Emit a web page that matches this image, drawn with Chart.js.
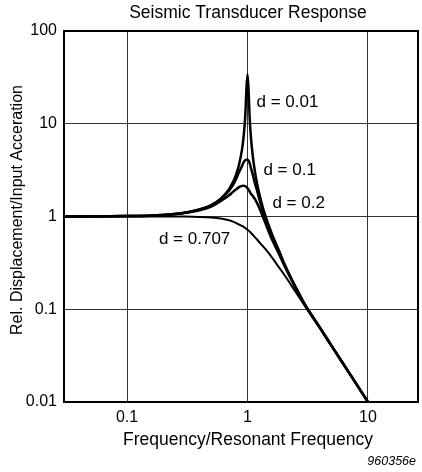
<!DOCTYPE html>
<html>
<head>
<meta charset="UTF-8">
<title>Seismic Transducer Response</title>
<script src="https://cdn.jsdelivr.net/npm/chart.js@4.4.0/dist/chart.umd.min.js"></script>
<style>
  body { margin: 0; background: #fff; }
  canvas { display: block; }
</style>
</head>
<body>
<canvas id="myChart" width="422" height="472"></canvas>
<script>
// frequency ratio samples
const freq = [0.03, 0.1, 0.2, 0.3, 0.4, 0.5, 0.6, 0.7, 0.75, 0.8, 0.85, 0.9, 0.93, 0.96, 0.98, 1.0, 1.02, 1.04, 1.07, 1.1, 1.15, 1.2, 1.3, 1.4, 1.6, 1.8, 2, 2.5, 3, 4, 5, 7, 10];

const d001 = [1.0, 1.01, 1.04, 1.10, 1.19, 1.33, 1.56, 1.96, 2.29, 2.78, 3.6, 5.26, 7.4, 12.7, 24, 34, 23.5, 12.2, 6.9, 4.76, 3.10, 2.27, 1.45, 1.04, 0.64, 0.446, 0.32, 0.175, 0.112, 0.063, 0.04, 0.0205, 0.01];
const d01  = [1.0, 1.01, 1.04, 1.10, 1.19, 1.32, 1.54, 1.89, 2.14, 2.5, 3.0, 3.5, 3.85, 4.05, 4.1, 4.1, 4.0, 3.8, 3.3, 2.9, 2.3, 1.9, 1.3, 0.98, 0.62, 0.44, 0.315, 0.174, 0.112, 0.063, 0.04, 0.0205, 0.01];
const d02  = [1.0, 1.01, 1.04, 1.09, 1.17, 1.28, 1.47, 1.68, 1.82, 1.95, 2.07, 2.14, 2.15, 2.12, 2.08, 2.02, 1.95, 1.87, 1.75, 1.68, 1.55, 1.4, 1.1, 0.86, 0.56, 0.41, 0.305, 0.172, 0.111, 0.063, 0.04, 0.0205, 0.01];
const d0707 = [1.0, 1.0, 1.0, 0.998, 0.99, 0.975, 0.95, 0.91, 0.885, 0.855, 0.82, 0.79, 0.77, 0.75, 0.735, 0.72, 0.705, 0.69, 0.665, 0.64, 0.6, 0.565, 0.5, 0.45, 0.36, 0.29, 0.24, 0.155, 0.108, 0.062, 0.04, 0.0204, 0.01];

const xTicks = [0.1, 1, 10];
const yTicks = [0.01, 0.1, 1, 10, 100];

const labels = ["d = 0.01", "d = 0.1", "d = 0.2", "d = 0.707"];
const labelX = [1.187, 1.356, 1.61, 0.184];
const labelY = [17.1, 3.17, 1.40, 0.572];

function pts(ys) {
  return freq.map((f, i) => ({x: f, y: ys[i]}));
}

const fontFam = '"Liberation Sans", Arial, sans-serif';

const textPlugin = {
  id: 'texts',
  afterDraw(chart) {
    const ctx = chart.ctx;
    const a = chart.chartArea;
    const xs = chart.scales.x, ys = chart.scales.y;
    ctx.save();
    // frame
    ctx.strokeStyle = '#000';
    ctx.lineWidth = 2;
    ctx.strokeRect(a.left, a.top, a.right - a.left, a.bottom - a.top);

    ctx.fillStyle = '#000';
    ctx.textBaseline = 'middle';
    ctx.textAlign = 'center';
    ctx.font = '17.5px ' + fontFam;
    ctx.fillText('Seismic Transducer Response', 248, 13);
    ctx.fillText('Frequency/Resonant Frequency', 248, 440);

    ctx.save();
    ctx.translate(18, 210);
    ctx.rotate(-Math.PI / 2);
    ctx.font = '16px ' + fontFam;
    ctx.fillText('Rel. Displacement/Input Acceration', 0, 0);
    ctx.restore();

    ctx.textAlign = 'right';
    ctx.font = 'italic 12.5px ' + fontFam;
    ctx.fillText('960356e', 416, 462);

    ctx.textAlign = 'left';
    ctx.font = '17px ' + fontFam;
    for (let i = 0; i < labels.length; i++) {
      ctx.fillText(labels[i], xs.getPixelForValue(labelX[i]), ys.getPixelForValue(labelY[i]));
    }
    ctx.restore();
  }
};

new Chart('myChart', {
  type: 'line',
  data: {
    datasets: [
      { data: pts(d001), borderColor: '#000', borderWidth: 2.5, pointRadius: 0, fill: false },
      { data: pts(d01), borderColor: '#000', borderWidth: 2.5, pointRadius: 0, fill: false },
      { data: pts(d02), borderColor: '#000', borderWidth: 2.5, pointRadius: 0, fill: false },
      { data: pts(d0707), borderColor: '#000', borderWidth: 2, pointRadius: 0, fill: false }
    ]
  },
  options: {
    responsive: false,
    animation: false,
    layout: { padding: { left: 0, top: 31, right: 4, bottom: 0 } },
    plugins: { legend: { display: false }, tooltip: { enabled: false } },
    elements: { line: { tension: 0.3, cubicInterpolationMode: 'monotone' } },
    scales: {
      x: {
        type: 'logarithmic',
        min: 0.03,
        max: 26,
        afterBuildTicks: s => { s.ticks = xTicks.map(v => ({value: v})); },
        afterFit: s => { s.height = 70; },
        ticks: {
          color: '#000',
          padding: 6,
          font: { size: 16, family: fontFam },
          callback: v => String(v)
        },
        grid: { color: '#333', lineWidth: 1, drawTicks: false },
        border: { display: false }
      },
      y: {
        type: 'logarithmic',
        min: 0.01,
        max: 100,
        afterBuildTicks: s => { s.ticks = yTicks.map(v => ({value: v})); },
        afterFit: s => { s.width = 64; },
        ticks: {
          color: '#000',
          padding: 7,
          font: { size: 16, family: fontFam },
          callback: v => String(v)
        },
        grid: { color: '#333', lineWidth: 1, drawTicks: false },
        border: { display: false }
      }
    }
  },
  plugins: [textPlugin]
});
</script>
</body>
</html>
